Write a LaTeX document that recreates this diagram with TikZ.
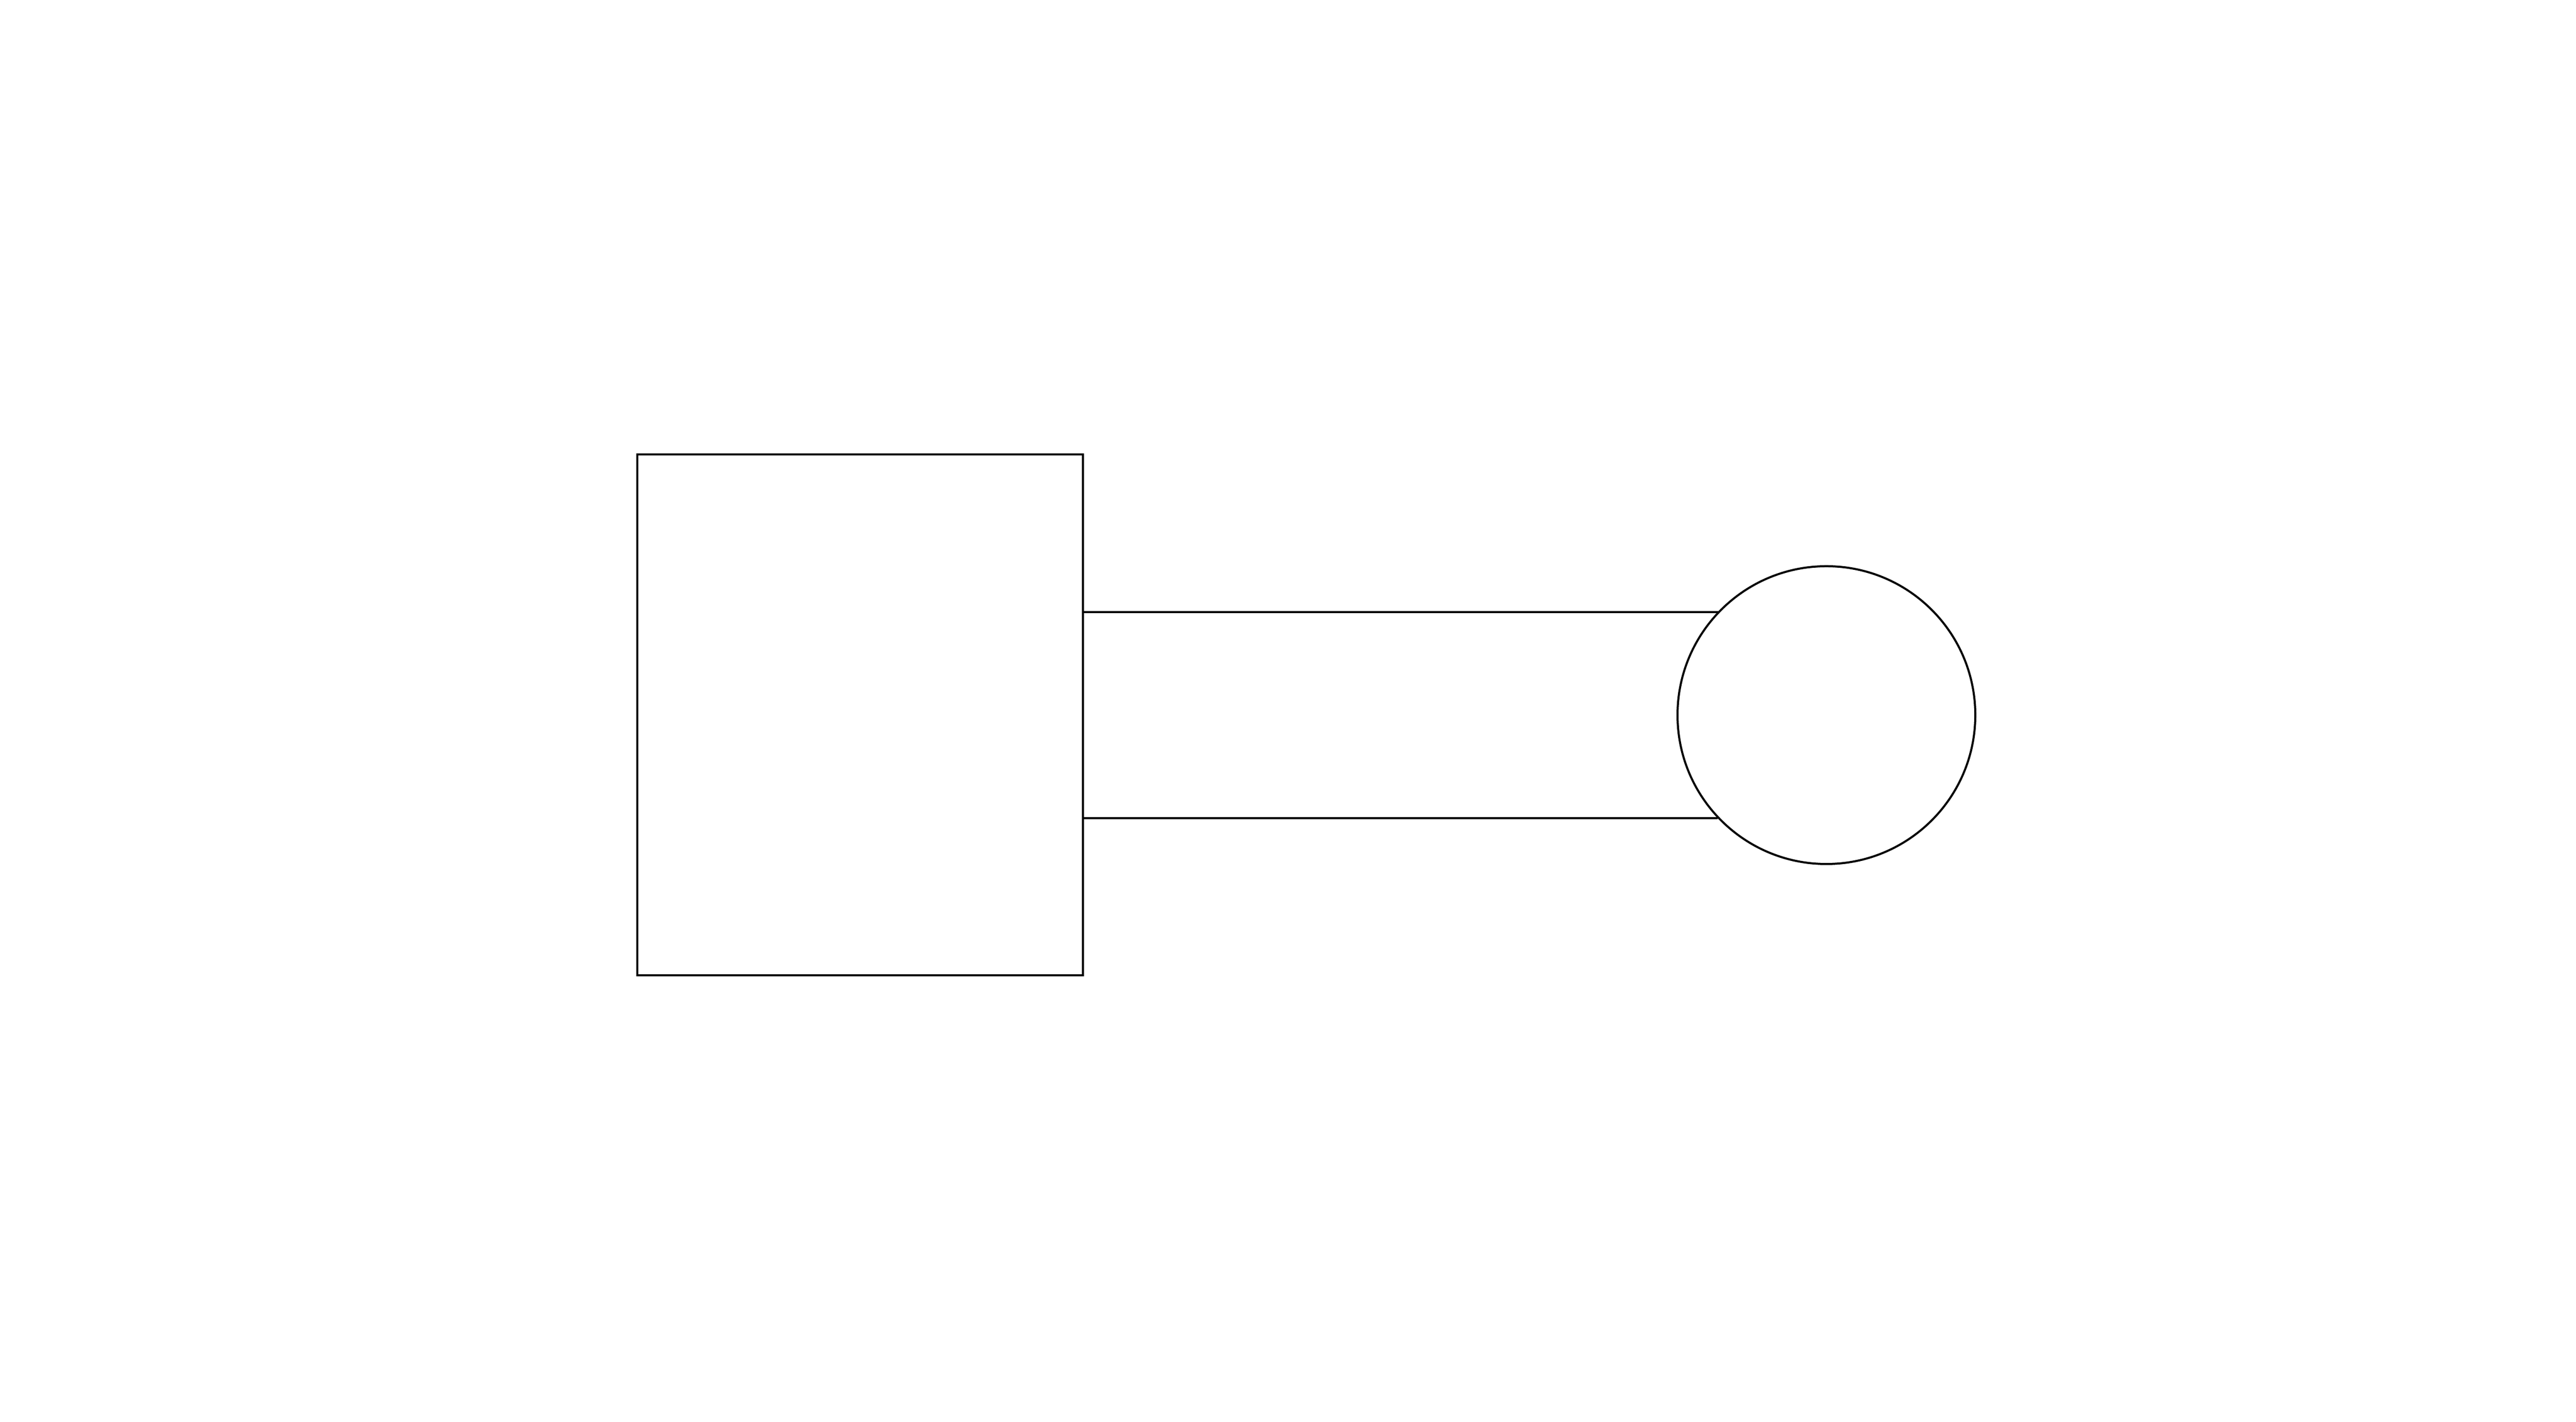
\documentclass[tikz,border=0pt]{standalone}
\usetikzlibrary{calc}
\begin{document}
\begin{tikzpicture}[
  shapeline/.style={draw=black, line width=0.04cm, inner sep=0pt, outer sep=0pt},
  connline/.style={draw=black, line width=0.035cm}
]
\useasboundingbox[fill=white] (0,0) rectangle (50,27.6);
\node[shapeline, rectangle, minimum width=8.65cm, minimum height=10.11cm] (sq) at (16.695,13.72) {};
\node[shapeline, circle, minimum size=5.78cm] (ci) at (35.45,13.72) {};
\coordinate (t) at ([yshift=2cm]sq.east);
\coordinate (b) at ([yshift=-2cm]sq.east);
\draw[connline] (t) -- (t -| ci.136.2);
\draw[connline] (b) -- (b -| ci.223.8);
\end{tikzpicture}
\end{document}
